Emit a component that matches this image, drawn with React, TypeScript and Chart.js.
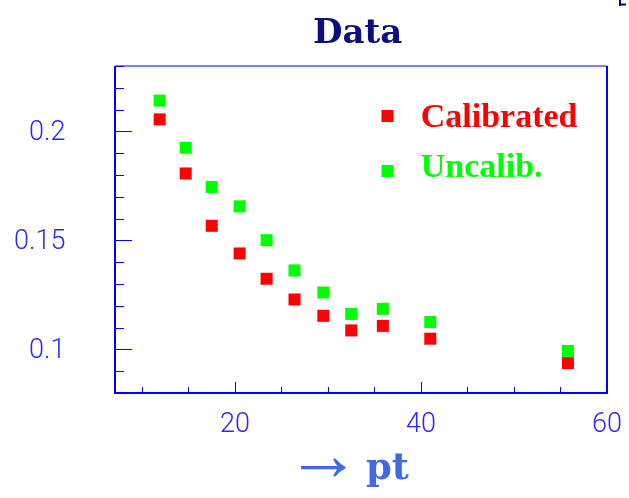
import { useEffect, useRef } from 'react';
import { Chart, registerables } from 'chart.js';

Chart.register(...registerables);

// ---- data ----
const ptValues = [11.9, 14.7, 17.5, 20.5, 23.4, 26.4, 29.5, 32.5, 35.9, 41.0, 55.8];
const calibrated = [0.2055, 0.1807, 0.1567, 0.144, 0.1324, 0.1229, 0.1154, 0.1087, 0.1108, 0.1049, 0.0937];
const uncalibrated = [0.2141, 0.1925, 0.1745, 0.1656, 0.1501, 0.1362, 0.1261, 0.1163, 0.1186, 0.1126, 0.0993];
const seriesLabels = ['Calibrated', 'Uncalib.'];
const seriesColors = ['#ff0000', '#00ff00'];
const xTickLabels = [20, 40, 60];
const yTickLabels = [0.1, 0.15, 0.2];
const xRange = [7.1, 60];
const yRange = [0.08, 0.23];
const xTitleArrow = '\u2192';
const xTitleText = 'pt';

const isIn = (list: number[], v: number) => list.some((t) => Math.abs(t - v) < 1e-6);

const frameTicksPlugin = {
  id: 'frameTicks',
  beforeDatasetsDraw(chart: any) {
    const { ctx, chartArea } = chart;
    const { left, right, top, bottom } = chartArea;
    const xs = chart.scales.x;
    const ys = chart.scales.y;
    ctx.save();
    ctx.strokeStyle = '#0000ff';
    ctx.lineWidth = 1;
    xs.ticks.forEach((t: any) => {
      const px = Math.round(xs.getPixelForValue(t.value)) + 0.5;
      const len = isIn(xTickLabels, t.value) ? 11 : 6;
      ctx.beginPath();
      ctx.moveTo(px, bottom);
      ctx.lineTo(px, bottom - len);
      ctx.stroke();
    });
    ys.ticks.forEach((t: any) => {
      const py = Math.round(ys.getPixelForValue(t.value)) + 0.5;
      const len = isIn(yTickLabels, t.value) ? 17 : 9;
      ctx.beginPath();
      ctx.moveTo(left, py);
      ctx.lineTo(left + len, py);
      ctx.stroke();
    });
    // frame
    ctx.lineWidth = 1;
    ctx.beginPath();
    ctx.moveTo(left, top);
    ctx.lineTo(right, top);
    ctx.stroke();
    ctx.lineWidth = 2;
    ctx.beginPath();
    ctx.moveTo(left, top);
    ctx.lineTo(left, bottom);
    ctx.lineTo(right, bottom);
    ctx.lineTo(right, top);
    ctx.stroke();
    // corner of an off-page box at the top right
    ctx.fillStyle = '#000080';
    ctx.fillRect(619, 0, 2, 6);
    ctx.fillRect(619, 3.5, 7, 2);
    ctx.restore();
  },
  afterDatasetsDraw(chart: any) {
    const { ctx, chartArea } = chart;
    ctx.save();
    // legend
    chart.data.datasets.forEach((ds: any, i: number) => {
      const cx = chartArea.left + 272.5;
      const cy = chartArea.top + 50 + i * 55;
      ctx.fillStyle = ds.backgroundColor;
      ctx.fillRect(cx - 6, cy - 6, 12, 12);
      ctx.font = 'bold 34px "Liberation Serif"';
      ctx.textBaseline = 'alphabetic';
      ctx.textAlign = 'left';
      ctx.fillText(ds.label, chartArea.left + 305.7, chartArea.top + 60.7 + i * 50);
    });
    // x-axis title: thin arrow + bold "pt"
    const mid = (chartArea.left + chartArea.right) / 2;
    ctx.fillStyle = '#4169e1';
    ctx.textAlign = 'left';
    ctx.textBaseline = 'alphabetic';
    ctx.font = '100px "Liberation Serif"';
    const m100 = ctx.measureText(xTitleArrow);
    const w100 = m100.actualBoundingBoxLeft + m100.actualBoundingBoxRight;
    const arrowSize = (100 * 45) / w100;
    ctx.font = `${arrowSize}px "Liberation Serif"`;
    const ma = ctx.measureText(xTitleArrow);
    const ay = 467 - 393 + chartArea.bottom + (ma.actualBoundingBoxAscent - ma.actualBoundingBoxDescent) / 2;
    ctx.fillText(xTitleArrow, mid - 60 + ma.actualBoundingBoxLeft, ay);
    ctx.font = 'bold 37px "DejaVu Serif"';
    const mp = ctx.measureText(xTitleText);
    ctx.fillText(xTitleText, mid + 5 + mp.actualBoundingBoxLeft, chartArea.bottom + 86);
    ctx.restore();
  },
};

export default function App() {
  const ref = useRef<HTMLCanvasElement | null>(null);

  useEffect(() => {
    if (!ref.current) return;
    const datasets = [calibrated, uncalibrated].map((vals, i) => ({
      label: seriesLabels[i],
      data: ptValues.map((x, j) => ({ x, y: vals[j] })),
      backgroundColor: seriesColors[i],
      borderColor: seriesColors[i],
      pointStyle: 'rect',
      pointRadius: 8.5,
      pointBorderWidth: 0,
      showLine: false,
    }));
    const tickFont = { family: 'Roboto', weight: 300 as any, size: 27 };
    const chart = new Chart(ref.current, {
      type: 'scatter',
      data: { datasets },
      plugins: [frameTicksPlugin],
      options: {
        animation: false,
        responsive: false,
        events: [],
        layout: { padding: { left: 0, right: 22, top: 0, bottom: 0 } },
        plugins: {
          legend: { display: false },
          tooltip: { enabled: false },
          title: {
            display: true,
            text: 'Data\u2009',
            fullSize: false,
            color: '#0d0d80',
            font: { family: 'DejaVu Serif', weight: 'bold', size: 34 },
            padding: { top: 14, bottom: 11.2 },
          },
        },
        scales: {
          x: {
            type: 'linear',
            min: xRange[0],
            max: xRange[1],
            grid: { display: false, drawTicks: false },
            border: { display: false },
            ticks: {
              stepSize: 5,
              includeBounds: false,
              autoSkip: false,
              maxRotation: 0,
              padding: 16,
              color: '#2828ff',
              font: tickFont,
              callback: (v: any) => (isIn(xTickLabels, Number(v)) ? String(Math.round(Number(v))) : ''),
            },
            title: { display: false },
            afterFit: (s: any) => {
              s.height = 105;
              s.paddingLeft = 0;
              s.paddingRight = 0;
            },
          },
          y: {
            type: 'linear',
            min: yRange[0],
            max: yRange[1],
            grid: { display: false, drawTicks: false },
            border: { display: false },
            ticks: {
              stepSize: 0.01,
              includeBounds: false,
              autoSkip: false,
              padding: 49.5,
              labelOffset: 2,
              color: '#2828ff',
              font: tickFont,
              callback: (v: any) => {
                const n = Number(v);
                return isIn(yTickLabels, n) ? String(Math.round(n * 100) / 100) : '';
              },
            },
            afterFit: (s: any) => {
              s.width = 115;
              s.paddingTop = 0;
              s.paddingBottom = 0;
            },
          },
        },
      } as any,
    });
    return () => chart.destroy();
  }, []);

  return (
    <div style={{ position: 'fixed', left: 0, top: 0, width: 629, height: 498, background: '#fff' }}>
      <canvas ref={ref} width={629} height={498} style={{ display: 'block' }} />
    </div>
  );
}
